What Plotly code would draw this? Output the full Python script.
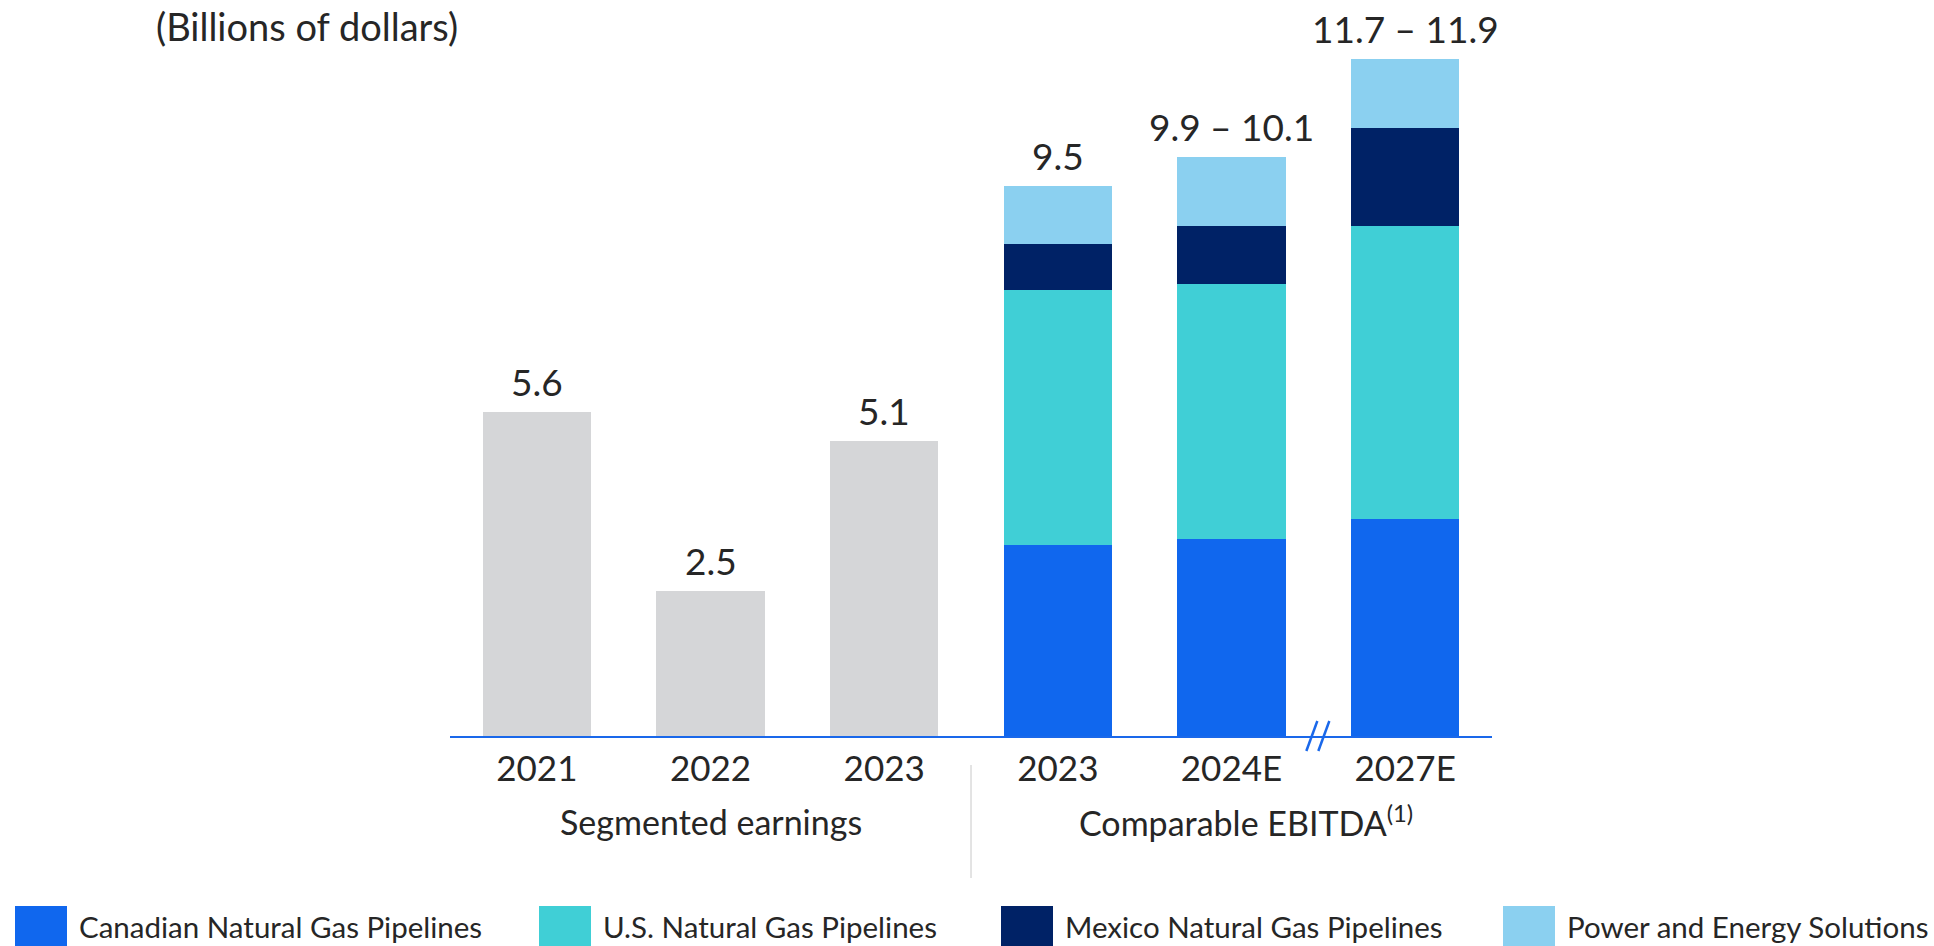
import plotly.graph_objects as go

# ---- data (billions of dollars) ----
seg_years = ["2021", "2022", "2023"]
seg_earnings = [5.6, 2.5, 5.1]
seg_labels = ["5.6", "2.5", "5.1"]

ebitda_years = ["2023", "2024E", "2027E"]
canadian = [3.3, 3.4, 3.75]
us = [4.4, 4.4, 5.05]
mexico = [0.8, 1.0, 1.7]
power = [1.0, 1.2, 1.2]
ebitda_labels = ["9.5", "9.9 \u2013 10.1", "11.7 \u2013 11.9"]

series_names = [
    "Canadian Natural Gas Pipelines",
    "U.S. Natural Gas Pipelines",
    "Mexico Natural Gas Pipelines",
    "Power and Energy Solutions",
]
series_values = [canadian, us, mexico, power]
group_titles = ["Segmented earnings", "Comparable EBITDA<sup>(1)</sup>"]

# ---- styling ----
W, H = 1934, 946
FONT = "Lato, 'Open Sans', sans-serif"
TEXT = "#262626"
AXIS_BLUE = "#1a68ea"
GREY = "#d5d6d8"
colors = ["#1067ee", "#40cfd6", "#002266", "#8bd0f0"]
BAR_W = 0.625
AXIS_Y = (H - 736) / H  # paper position of the baseline

all_years = seg_years + ebitda_years
xs_seg = list(range(len(seg_years)))
xs_eb = [len(seg_years) + i for i in range(len(ebitda_years))]

fig = go.Figure()

fig.add_trace(go.Bar(
    x=xs_seg, y=seg_earnings, width=BAR_W,
    marker=dict(color=GREY, line=dict(width=0)),
    showlegend=False, hoverinfo="y",
))
for name, vals, col in zip(series_names, series_values, colors):
    fig.add_trace(go.Bar(
        x=xs_eb, y=vals, width=BAR_W, name=name,
        marker=dict(color=col, line=dict(width=0)),
        showlegend=False,
    ))

# value labels above bars
annotations = []
for x, v, t in zip(xs_seg, seg_earnings, seg_labels):
    annotations.append(dict(x=x, y=v, xref="x", yref="y", text=t, showarrow=False,
                            yanchor="bottom", yshift=6,
                            font=dict(family=FONT, size=37, color=TEXT)))
totals = [sum(s[i] for s in series_values) for i in range(len(ebitda_years))]
for x, v, t in zip(xs_eb, totals, ebitda_labels):
    annotations.append(dict(x=x, y=v, xref="x", yref="y", text=t, showarrow=False,
                            yanchor="bottom", yshift=6,
                            font=dict(family=FONT, size=37, color=TEXT)))

# group titles under the year labels (the superscript hangs off the right)
group_centers = [sum(xs_seg) / len(xs_seg), sum(xs_eb) / len(xs_eb)]
group_shift = [0, 14]
for gx, gt, gs in zip(group_centers, group_titles, group_shift):
    annotations.append(dict(x=gx, y=(H - 821) / H, xref="x", yref="paper", text=gt,
                            showarrow=False, yanchor="middle", xshift=gs,
                            font=dict(family=FONT, size=34, color=TEXT)))

# unit caption
annotations.append(dict(x=154 / W, y=1 - 26 / H, xref="paper", yref="paper",
                        text="(Billions of dollars)", showarrow=False,
                        xanchor="left", yanchor="middle",
                        font=dict(family=FONT, size=38, color=TEXT)))

shapes = []
# divider between the two groups
shapes.append(dict(type="line", xref="x", yref="paper",
                   x0=len(seg_years) - 0.5, x1=len(seg_years) - 0.5,
                   y0=(H - 878) / H, y1=(H - 765) / H,
                   line=dict(color="#c8c8c8", width=1)))
# axis break marks between 2024E and 2027E (paper y so they are not clipped)
brk_x = xs_eb[1] + 0.5
for off in (-12, 0):
    shapes.append(dict(type="line", xref="x", yref="paper", xsizemode="pixel", ysizemode="pixel",
                       xanchor=brk_x, yanchor=AXIS_Y,
                       x0=off, x1=off + 11, y0=-15, y1=15,
                       line=dict(color=AXIS_BLUE, width=2.5)))

# custom legend row along the bottom
legend_x = [15, 539, 1001, 1503]
SW, SH = 52, 40
for lx, name, col in zip(legend_x, series_names, colors):
    shapes.append(dict(type="rect", xref="paper", yref="paper",
                       x0=lx / W, x1=(lx + SW) / W, y0=0, y1=SH / H,
                       fillcolor=col, line=dict(width=0)))
    annotations.append(dict(x=(lx + SW + 10) / W, y=(H - 926) / H, xref="paper", yref="paper",
                            text=name, showarrow=False, xanchor="left", yanchor="middle",
                            font=dict(family=FONT, size=29.5, color=TEXT)))

fig.update_layout(
    width=W, height=H,
    margin=dict(l=0, r=0, t=0, b=0),
    paper_bgcolor="white", plot_bgcolor="white",
    barmode="stack", bargap=0,
    font=dict(family=FONT, color=TEXT),
    annotations=annotations, shapes=shapes,
    xaxis=dict(
        domain=[450 / W, 1492 / W], range=[-0.5, len(all_years) - 0.5],
        tickvals=xs_seg + xs_eb, ticktext=all_years,
        tickfont=dict(family=FONT, size=35, color=TEXT),
        showline=True, linecolor=AXIS_BLUE, linewidth=2,
        ticks="", showgrid=False, zeroline=False, ticklabelstandoff=1,
    ),
    yaxis=dict(
        domain=[AXIS_Y, 1], range=[0, 736 / 57.9],
        visible=False, showgrid=False, zeroline=False,
    ),
)

fig.write_html("out.html")
